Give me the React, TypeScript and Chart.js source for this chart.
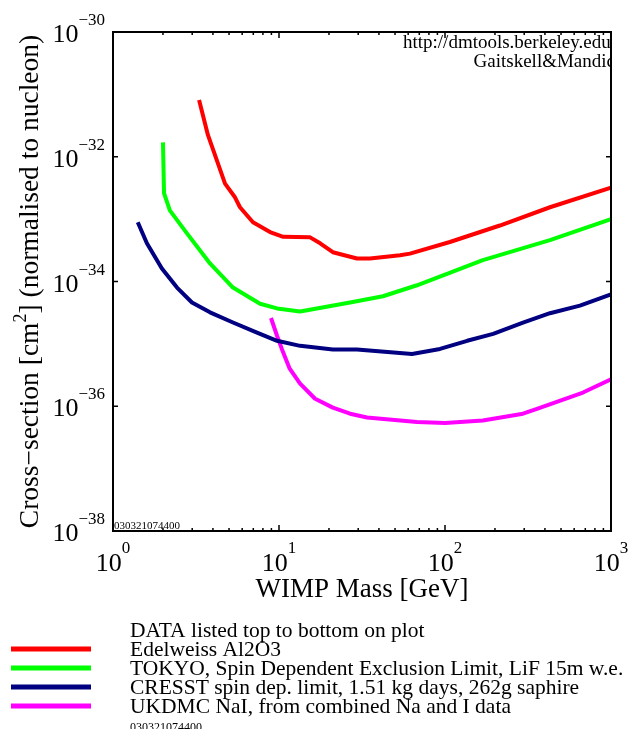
import React, { useEffect, useRef } from "react";
import { Chart, registerables } from "chart.js";

Chart.register(...registerables);

// ---- Data (WIMP mass in GeV, cross-section in cm^2) ----
const edelweissMass = [3.3, 3.73, 4.73, 5.43, 5.82, 6.97, 8.83, 10.6, 15.4, 17.7, 21.1, 29.5, 35.3, 53.6, 61.5, 107, 214, 429, 1000];
const edelweissSigma = [8.1e-32, 2.24e-32, 3.7e-33, 2.24e-33, 1.55e-33, 8.9e-34, 6.2e-34, 5.2e-34, 5.1e-34, 4.1e-34, 2.95e-34, 2.34e-34, 2.34e-34, 2.63e-34, 2.8e-34, 4.3e-34, 7.9e-34, 1.55e-33, 3.2e-33];

const tokyoMass = [2.0, 2.03, 2.2, 2.79, 3.84, 5.28, 7.69, 9.73, 13.4, 16.9, 26.8, 42.3, 67.8, 169, 429, 1000];
const tokyoSigma = [1.7e-32, 2.6e-33, 1.38e-33, 5.9e-34, 1.95e-34, 8.0e-35, 4.4e-35, 3.7e-35, 3.3e-35, 3.7e-35, 4.6e-35, 5.8e-35, 8.7e-35, 2.2e-34, 4.6e-34, 1.0e-33];

const cresstMass = [1.41, 1.6, 1.97, 2.43, 2.99, 3.84, 5.28, 7.37, 9.73, 13.4, 21.1, 29.5, 63.3, 93.3, 136, 195, 295, 429, 650, 1000];
const cresstSigma = [8.9e-34, 4.1e-34, 1.62e-34, 8.0e-35, 4.6e-35, 3.2e-35, 2.2e-35, 1.51e-35, 1.12e-35, 9.3e-36, 8.1e-36, 8.1e-36, 6.9e-36, 8.3e-36, 1.12e-35, 1.45e-35, 2.2e-35, 3.1e-35, 4.1e-35, 6.2e-35];

const ukdmcMass = [8.95, 9.73, 10.4, 11.6, 13.4, 16.5, 21.1, 26.8, 33.9, 67.8, 100, 169, 295, 358, 678, 1000];
const ukdmcSigma = [2.6e-35, 1.35e-35, 8.3e-36, 4.0e-36, 2.3e-36, 1.32e-36, 9.5e-37, 7.6e-37, 6.6e-37, 5.6e-37, 5.4e-37, 5.9e-37, 7.6e-37, 9.1e-37, 1.66e-36, 2.7e-36];

const seriesNames = [
  "Edelweiss Al2O3",
  "TOKYO, Spin Dependent Exclusion Limit, LiF 15m w.e.",
  "CRESST spin dep. limit, 1.51 kg days, 262g saphire",
  "UKDMC NaI, from combined Na and I data",
];
const seriesColors = ["#ff0000", "#00ff00", "#000080", "#ff00ff"];

const xTickValues = [1, 2, 3, 4, 5, 6, 7, 8, 9, 10, 20, 30, 40, 50, 60, 70, 80, 90, 100, 200, 300, 400, 500, 600, 700, 800, 900, 1000];
const xMajorLabels = ["0", "1", "2", "3"];
const yTickValues = [1e-38, 1e-36, 1e-34, 1e-32, 1e-30];
const yTickExponents = ["\u221238", "\u221236", "\u221234", "\u221232", "\u221230"];

const legendHeader = "DATA listed top to bottom on plot";
const stampText = "030321074400";
const creditLines = ["http://dmtools.berkeley.edu/", "Gaitskell&Mandic"];
const xTitle = "WIMP Mass [GeV]";

const FONT = "'Liberation Serif', 'Times New Roman', serif";

function toPoints(xs: number[], ys: number[]) {
  return xs.map((x, i) => ({ x, y: ys[i] }));
}

const decorPlugin = {
  id: "decor",
  afterDraw(chart: any) {
    const ctx = chart.ctx as CanvasRenderingContext2D;
    const { left, right, top, bottom } = chart.chartArea;
    const xs = chart.scales.x;
    const ys = chart.scales.y;
    ctx.save();

    // credit text (clipped at plot right edge)
    ctx.save();
    ctx.beginPath();
    ctx.rect(left, top, right - left + 1, bottom - top);
    ctx.clip();
    ctx.fillStyle = "#000";
    ctx.font = `19px ${FONT}`;
    ctx.textAlign = "right";
    ctx.textBaseline = "alphabetic";
    ctx.fillText(creditLines[0], 616, 48);
    ctx.fillText(creditLines[1], 615, 67);
    ctx.restore();

    // frame
    ctx.strokeStyle = "#000";
    ctx.lineWidth = 2;
    ctx.strokeRect(left, top, right - left, bottom - top);

    // x ticks (inside, top and bottom)
    ctx.lineWidth = 1.5;
    let majorIdx = 0;
    for (const t of xs.ticks) {
      const px = xs.getPixelForValue(t.value);
      const lg = Math.log10(t.value);
      const isMajor = Math.abs(lg - Math.round(lg)) < 1e-9;
      const len = isMajor ? 6 : 3;
      ctx.beginPath();
      ctx.moveTo(px, bottom);
      ctx.lineTo(px, bottom - len);
      ctx.moveTo(px, top);
      ctx.lineTo(px, top + len);
      ctx.stroke();
      if (isMajor) {
        const exp = xMajorLabels[majorIdx++];
        ctx.font = `26px ${FONT}`;
        const w1 = ctx.measureText("10").width;
        ctx.font = `17px ${FONT}`;
        const w2 = ctx.measureText(exp).width;
        const start = px - (w1 + w2) / 2;
        ctx.fillStyle = "#000";
        ctx.textAlign = "left";
        ctx.font = `26px ${FONT}`;
        ctx.fillText("10", start, 571);
        ctx.font = `17px ${FONT}`;
        ctx.fillText(exp, start + w1, 553);
      }
    }

    // y ticks (inside, left and right) and labels
    ys.ticks.forEach((t: any, i: number) => {
      const py = ys.getPixelForValue(t.value);
      ctx.beginPath();
      ctx.moveTo(left, py);
      ctx.lineTo(left + 5, py);
      ctx.moveTo(right, py);
      ctx.lineTo(right - 5, py);
      ctx.stroke();
      const exp = yTickExponents[i];
      ctx.font = `17px ${FONT}`;
      const w2 = ctx.measureText(exp).width;
      ctx.textAlign = "left";
      ctx.fillStyle = "#000";
      ctx.fillText(exp, 105 - w2, py - 7);
      ctx.font = `26px ${FONT}`;
      const w1 = ctx.measureText("10").width;
      ctx.fillText("10", 105 - w2 - w1, py + 10);
    });

    // stamp inside plot
    ctx.font = `11px ${FONT}`;
    ctx.textAlign = "left";
    ctx.fillText(stampText, left + 1, bottom - 2);

    // x title
    ctx.font = `27px ${FONT}`;
    ctx.textAlign = "center";
    ctx.fillText(xTitle, (left + right) / 2, 597);

    // y title (rotated) with superscript
    ctx.save();
    ctx.translate(38, (top + bottom) / 2);
    ctx.rotate(-Math.PI / 2);
    const partA = "Cross\u2212section [cm";
    const partSup = "2";
    const partB = "] (normalised to nucleon)";
    ctx.font = `27.5px ${FONT}`;
    const wa = ctx.measureText(partA).width;
    const wb = ctx.measureText(partB).width;
    ctx.font = `18px ${FONT}`;
    const ws = ctx.measureText(partSup).width;
    const total = wa + ws + wb;
    const x0 = -total / 2;
    ctx.textAlign = "left";
    ctx.font = `27.5px ${FONT}`;
    ctx.fillText(partA, x0, 0);
    ctx.font = `18px ${FONT}`;
    ctx.fillText(partSup, x0 + wa, -12);
    ctx.font = `27.5px ${FONT}`;
    ctx.fillText(partB, x0 + wa + ws, 0);
    ctx.restore();

    // legend
    ctx.font = `21.5px ${FONT}`;
    ctx.textAlign = "left";
    ctx.fillStyle = "#000";
    ctx.fillText(legendHeader, 130, 637);
    seriesNames.forEach((name, i) => {
      const yb = 656 + i * 19;
      ctx.strokeStyle = seriesColors[i];
      ctx.lineWidth = 5;
      ctx.beginPath();
      ctx.moveTo(11, yb - 7);
      ctx.lineTo(91, yb - 7);
      ctx.stroke();
      ctx.fillStyle = "#000";
      ctx.font = `21.5px ${FONT}`;
      ctx.fillText(name, 130, yb);
    });
    ctx.font = `12px ${FONT}`;
    ctx.fillText(stampText, 130, 731);

    ctx.restore();
  },
};

export default function App() {
  const ref = useRef<HTMLCanvasElement | null>(null);
  useEffect(() => {
    if (!ref.current) return;
    const chart = new Chart(ref.current, {
      type: "line",
      data: {
        datasets: [
          { label: seriesNames[0], data: toPoints(edelweissMass, edelweissSigma), borderColor: seriesColors[0] },
          { label: seriesNames[1], data: toPoints(tokyoMass, tokyoSigma), borderColor: seriesColors[1] },
          { label: seriesNames[2], data: toPoints(cresstMass, cresstSigma), borderColor: seriesColors[2] },
          { label: seriesNames[3], data: toPoints(ukdmcMass, ukdmcSigma), borderColor: seriesColors[3] },
        ],
      },
      options: {
        responsive: false,
        animation: false,
        devicePixelRatio: 1,
        layout: { padding: { top: 32, right: 18, left: 0, bottom: 0 } },
        elements: {
          point: { radius: 0 },
          line: { borderWidth: 4, tension: 0, borderJoinStyle: "round", fill: false },
        },
        plugins: { legend: { display: false }, tooltip: { enabled: false } },
        scales: {
          x: {
            type: "logarithmic",
            min: 1,
            max: 1000,
            grid: { display: false },
            border: { display: false },
            ticks: { display: false },
            afterBuildTicks: (s: any) => {
              s.ticks = xTickValues.map((v) => ({ value: v }));
            },
            afterFit: (s: any) => {
              s.height = 198;
            },
          },
          y: {
            type: "logarithmic",
            min: 1e-38,
            max: 1e-30,
            grid: { display: false },
            border: { display: false },
            ticks: { display: false },
            afterBuildTicks: (s: any) => {
              s.ticks = yTickValues.map((v) => ({ value: v }));
            },
            afterFit: (s: any) => {
              s.width = 113;
            },
          },
        },
      } as any,
      plugins: [decorPlugin],
    });
    return () => chart.destroy();
  }, []);
  return (
    <div style={{ position: "absolute", left: 0, top: 0, width: 629, height: 729, background: "#fff" }}>
      <canvas ref={ref} width={629} height={729} style={{ display: "block" }} />
    </div>
  );
}
